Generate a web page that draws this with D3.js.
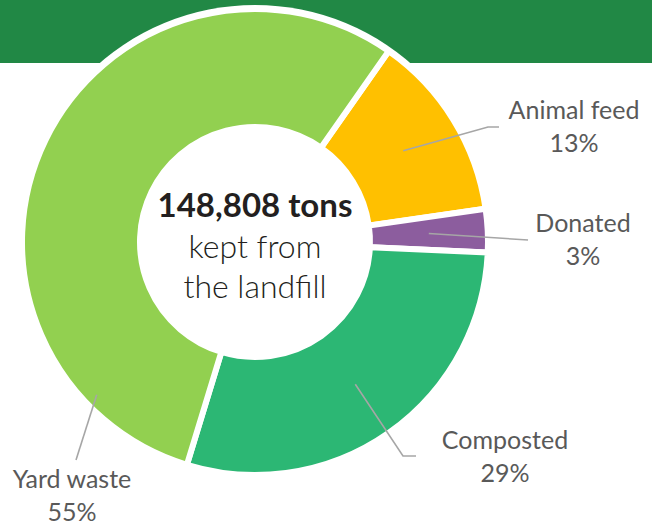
<!DOCTYPE html>
<html>
<head>
<meta charset="utf-8">
<script src="https://cdn.jsdelivr.net/npm/d3@7/dist/d3.min.js"></script>
<style>
  body { margin:0; background:#fff; }
  svg { display:block; }
</style>
</head>
<body>
<svg></svg>
<script>
var categories = ["Animal feed", "Donated", "Composted", "Yard waste"];
var percents = [13, 3, 29, 55];
var sliceColors = ["#FFC000", "#8C5D9E", "#2CB774", "#92D050"];
var totalTons = "148,808 tons";
var subtitle = ["kept from", "the landfill"];

var screen = { width:652, height:526 };
var svg = d3.select("svg")
  .attr("width", screen.width)
  .attr("height", screen.height);

// green banner at the top
svg.append("rect")
  .attr("x", 0).attr("y", 0)
  .attr("width", screen.width).attr("height", 63)
  .attr("fill", "#218845");

var cx = 255, cy = 242;
var outerR = 233, innerR = 115;

var plot = svg.append("g")
  .attr("transform", "translate(" + cx + "," + cy + ")");

// white halo round the ring (shows over the banner)
plot.append("circle")
  .attr("r", outerR + 4)
  .attr("fill", "#fff");

var pie = d3.pie()
  .sort(null)
  .value(function(d) { return d; })
  .startAngle(35 * Math.PI / 180)
  .endAngle(395 * Math.PI / 180);

var arcs = pie(percents);

var arc = d3.arc().innerRadius(innerR).outerRadius(outerR);

plot.selectAll("path")
  .data(arcs)
  .enter()
  .append("path")
  .attr("d", arc)
  .attr("fill", function(d, i) { return sliceColors[i]; })
  .attr("stroke", "#fff")
  .attr("stroke-width", 6)
  .attr("stroke-linejoin", "miter");

// leader lines: where they leave the slice and where they bend/end (layout only)
var leaders = [
  { r:174, ang:null, pts:[[488,127],[499,127]], lx:574, ly:119 },
  { r:174, ang:null, pts:[[528,240]], lx:583, ly:232 },
  { r:174, ang:null, pts:[[403,456],[416,456]], lx:505, ly:449 },
  { r:220, ang:226, pts:[[76,460]], lx:72, ly:488 }
];

var line = d3.line();

arcs.forEach(function(d, i)
{
  var L = leaders[i];
  var a = L.ang == null ? (d.startAngle + d.endAngle) / 2 : L.ang * Math.PI / 180;
  var start = [cx + L.r * Math.sin(a), cy - L.r * Math.cos(a)];
  svg.append("path")
    .attr("d", line([start].concat(L.pts)))
    .attr("fill", "none")
    .attr("stroke", "#A6A6A6")
    .attr("stroke-width", 1.6);

  var t = svg.append("text")
    .attr("x", L.lx)
    .attr("y", L.ly)
    .attr("text-anchor", "middle")
    .attr("font-family", "Lato, 'Open Sans', sans-serif")
    .attr("font-size", 25)
    .attr("fill", "#595959");
  t.append("tspan").attr("x", L.lx).text(categories[i]);
  t.append("tspan").attr("x", L.lx).attr("dy", 33).text(percents[i] + "%");
});

// centre text
svg.append("text")
  .attr("x", cx).attr("y", 217)
  .attr("text-anchor", "middle")
  .attr("font-family", "Lato, 'Open Sans', sans-serif")
  .attr("font-weight", 700)
  .attr("font-size", 33)
  .attr("fill", "#231F20")
  .text(totalTons);

svg.selectAll(".sub")
  .data(subtitle)
  .enter()
  .append("text")
  .classed("sub", true)
  .attr("x", cx)
  .attr("y", function(d, i) { return 258 + i * 40; })
  .attr("text-anchor", "middle")
  .attr("font-family", "Lato, 'Open Sans', sans-serif")
  .attr("font-weight", 300)
  .attr("font-size", 32)
  .attr("fill", "#231F20")
  .text(function(d) { return d; });
</script>
</body>
</html>
